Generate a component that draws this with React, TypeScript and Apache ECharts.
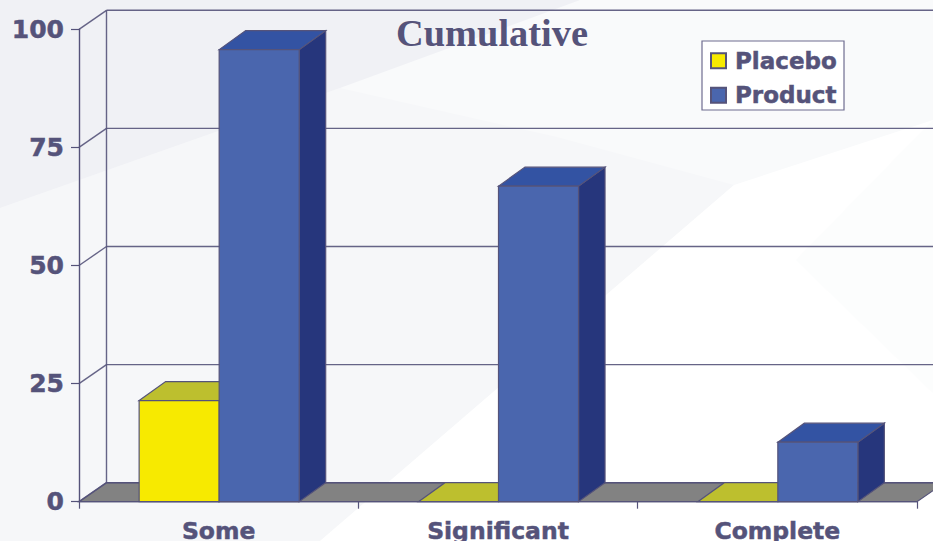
import React, { useEffect, useRef } from "react";
import * as echarts from "echarts";

const categories = ["Some", "Significant", "Complete"];
const placebo = [21.4, 0, 0];
const product = [95.7, 66.8, 12.6];
const yTicks = [0, 25, 50, 75, 100];
const chartTitle = "Cumulative";
const INK = "#55537a";
const WALL_DX = 27.5;
const DY = -19;
const BAR_DX = 26.5;
const BAR_FRACTION = 0.2865;

const poly = (points: number[][], fill: string, stroke = INK, lineWidth = 1.2) => ({
  type: "polygon",
  shape: { points },
  style: { fill, stroke, lineWidth },
});
const seg = (a: number[], b: number[]) => ({
  type: "line",
  shape: { x1: a[0], y1: a[1], x2: b[0], y2: b[1] },
  style: { stroke: INK, lineWidth: 1.4, fill: "none", opacity: 0.9 },
});
const backdrop = (points: number[][], fill: string, z: number) => ({
  type: "polygon",
  z,
  silent: true,
  shape: { points },
  style: { fill },
});
const heavy = { textBorderColor: INK, textBorderWidth: 0.5 };

function barSeries(name: string, values: number[], offset: number, front: string, top: string, side: string) {
  return {
    type: "custom",
    name,
    z: offset === 0 ? 4 : 3,
    itemStyle: { color: front, borderColor: INK, borderWidth: 1 },
    data: values.map((v, i) => [i, v]),
    encode: { x: 0, y: 1 },
    renderItem: (_: any, api: any) => {
      const band = api.size([1, 0])[0];
      const w = band * BAR_FRACTION;
      const [cx, yTop] = api.coord([api.value(0), api.value(1)]);
      const [, yBase] = api.coord([api.value(0), 0]);
      const x0 = cx + 0.5 + offset * w;
      const x1 = x0 + w;
      const children: any[] = [
        poly([[x1, yTop], [x1 + BAR_DX, yTop + DY], [x1 + BAR_DX, yBase + DY], [x1, yBase]], side),
        poly([[x0, yTop], [x0 + BAR_DX, yTop + DY], [x1 + BAR_DX, yTop + DY], [x1, yTop]], top),
      ];
      if (yBase - yTop > 0.5) children.push(poly([[x0, yTop], [x1, yTop], [x1, yBase], [x0, yBase]], front));
      return { type: "group", children };
    },
  };
}

export default function App() {
  const ref = useRef<HTMLDivElement>(null);
  useEffect(() => {
    document.body.style.margin = "0";
    const chart = echarts.init(ref.current!, undefined, { renderer: "svg" });
    chart.setOption({
      animation: false,
      backgroundColor: "#f9fafb",
      textStyle: { fontFamily: "DejaVu Sans" },
      graphic: [
        backdrop([[0, 208], [340, 88], [557, 137], [734, 185], [320, 541], [0, 541]], "#f6f7f9", -11),
        backdrop([[0, 0], [580, 0], [340, 88], [0, 208]], "#f0f1f5", -10),
        backdrop([[320, 541], [734, 185], [933, 120], [933, 541]], "#ffffff", -9),
        backdrop([[796, 260], [933, 120], [933, 393]], "#fcfdfd", -8),
      ],
      title: {
        text: chartTitle,
        left: 396,
        top: 14,
        padding: 0,
        textStyle: { fontFamily: "Liberation Serif", fontWeight: "bold", fontSize: 38.4, color: INK },
      },
      legend: {
        data: [
          { name: "Placebo", icon: "rect" },
          { name: "Product", icon: "rect" },
        ],
        left: 702,
        top: 41,
        orient: "vertical",
        itemWidth: 15,
        itemHeight: 15,
        itemGap: 11,
        padding: [8, 7, 3, 8],
        backgroundColor: "#ffffff",
        borderColor: "#6f6d90",
        borderWidth: 1.2,
        borderRadius: 0,
        selectedMode: false,
        textStyle: { fontFamily: "DejaVu Sans", fontWeight: "bold", fontSize: 23, color: INK, padding: [0, 0, 0, 4], ...heavy },
      },
      grid: { left: 79, right: 16, top: 29.3, bottom: 39.3, outerBoundsMode: "none" },
      xAxis: {
        type: "category",
        data: categories,
        axisLine: { lineStyle: { color: INK, width: 1.4 } },
        axisTick: { show: true, length: 7, lineStyle: { color: INK, width: 1.2 } },
        axisLabel: { color: INK, fontWeight: "bold", fontSize: 23.5, margin: 17, fontFamily: "DejaVu Sans", ...heavy },
      },
      yAxis: {
        type: "value",
        min: 0,
        max: 100,
        interval: 25,
        splitLine: { show: false },
        axisLine: { show: true, lineStyle: { color: INK, width: 1.4 } },
        axisTick: { show: true, length: 8, lineStyle: { color: INK, width: 1.2 } },
        axisLabel: { color: INK, fontWeight: "bold", fontSize: 25, margin: 15, padding: [3, 0, 0, 0], fontFamily: "DejaVu Sans", ...heavy },
      },
      series: [
        {
          type: "custom",
          name: "wall",
          z: 1,
          silent: true,
          data: yTicks.map((t) => [0, t]),
          encode: { x: 0, y: 1 },
          renderItem: (_: any, api: any) => {
            const band = api.size([1, 0])[0];
            const [xc, y] = api.coord([0, api.value(1)]);
            const xL = xc - band / 2;
            const xR = xL + band * categories.length;
            const [, y0] = api.coord([0, 0]);
            const [, y100] = api.coord([0, 100]);
            const children: any[] = [
              seg([xL, y], [xL + WALL_DX, y + DY]),
              seg([xL + WALL_DX, y + DY], [xR + WALL_DX, y + DY]),
            ];
            if (api.value(1) === 0) {
              children.unshift(poly([[xL, y0], [xL + WALL_DX, y0 + DY], [xR + WALL_DX, y0 + DY], [xR, y0]], "#828282"));
              children.push(seg([xL + WALL_DX, y0 + DY], [xL + WALL_DX, y100 + DY]));
            }
            return { type: "group", children };
          },
        },
        barSeries("Placebo", placebo, -1, "#f7ea00", "#bdbf2e", "#9a9a20"),
        barSeries("Product", product, 0, "#4a66ae", "#3353a3", "#26367c"),
      ],
    });
    return () => chart.dispose();
  }, []);
  return <div ref={ref} style={{ width: 933, height: 541 }} />;
}
